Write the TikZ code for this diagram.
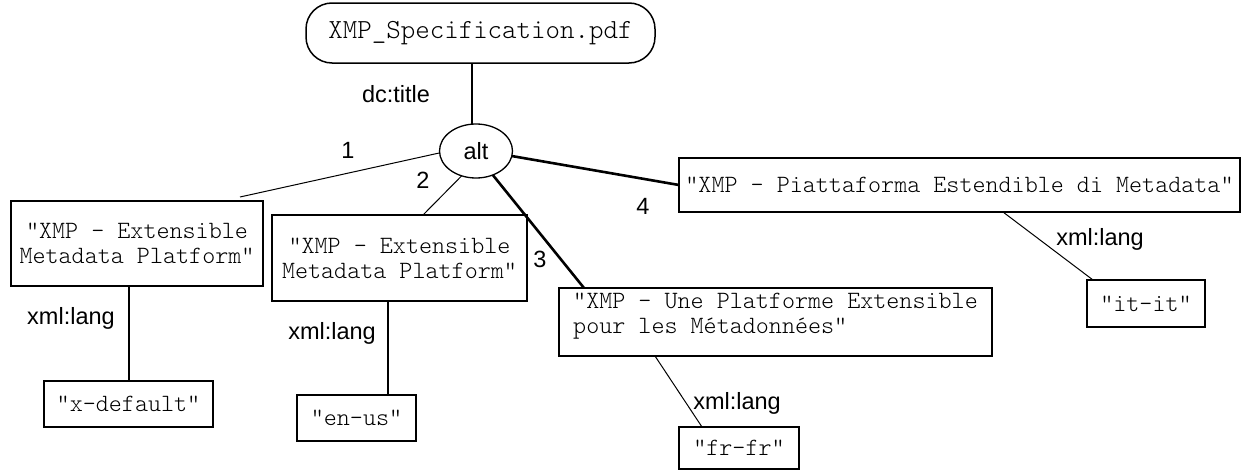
\documentclass[tikz,border=0pt]{standalone}
\usepackage{fontspec}
\newfontfamily\lsans{Liberation Sans}
\usetikzlibrary{shapes.geometric,calc}
\newcommand{\monotext}{\fontseries{l}\ttfamily\fontsize{24.86}{25}\selectfont}
\newcommand{\toptext}{\fontseries{l}\ttfamily\fontsize{27.6}{30}\selectfont}
\newcommand{\labtext}{\lsans\fontsize{23.5}{26}\selectfont}
\newcommand{\liftup}[2]{\raisebox{#1}[\height][\depth]{#2}}
\tikzset{
  every node/.style={inner sep=0pt, outer sep=0pt},
  valbox/.style={draw, rectangle, line width=2.1pt, font=\monotext, align=center},
  lab/.style={font=\labtext},
  thinline/.style={line width=1pt},
  midline/.style={line width=2pt},
  boldline/.style={line width=2.6pt}
}
\begin{document}
\begin{tikzpicture}[x=1pt,y=-1pt]
\useasboundingbox (0,0) rectangle (1242,471);
\fill[white] (0,0) rectangle (1242,471);

% resource node
\node[draw, rectangle, line width=1.5pt, rounded corners=26pt,
      minimum width=349pt, minimum height=60pt, font=\toptext] (top) at (480.5,33) {XMP\_Specification.pdf};

% alt node
\node[ellipse, draw, line width=1.3pt, minimum width=73pt, minimum height=54pt, lab] (alt) at (476,151) {alt};

% value boxes
\node[valbox, minimum width=252pt, minimum height=85pt] (b1) at (137,243.5) {"XMP - Extensible\\Metadata Platform"};
\node[valbox, minimum width=255pt, minimum height=86pt] (b2) at (399.5,258) {"XMP - Extensible\\Metadata Platform"};
\node[valbox, minimum width=433pt, minimum height=68pt] (b3) at (775.5,322)
  {\liftup{6.5pt}{\begin{tabular}{@{}l@{}}"XMP - Une Platforme Extensible\\pour les Métadonnées"\end{tabular}}};
\node[valbox, minimum width=561pt, minimum height=54pt] (b4) at (959.5,185) {"XMP - Piattaforma Estendible di Metadata"};

% language boxes
\node[valbox, minimum width=169pt, minimum height=46pt] (xdef) at (128.5,404) {"x-default"};
\node[valbox, minimum width=119pt, minimum height=46pt] (enus) at (356.5,418) {"en-us"};
\node[valbox, minimum width=120pt, minimum height=42pt] (frfr) at (739,448) {"fr-fr"};
\node[valbox, minimum width=118pt, minimum height=47pt] (itit) at (1146,303.5) {"it-it"};

% labels
\node[lab] (dct) at (396,94) {dc:title};
\node[lab] (n1) at (348,150.5) {1};
\node[lab] (n2) at (423,180) {2};
\node[lab] (n3) at (540,259) {3};
\node[lab] (n4) at (643,206) {4};
\node[lab] (xl1) at (71,318.5) {xml:lang};
\node[lab] (xl2) at (332,333) {xml:lang};
\node[lab] (xl3) at (737,403) {xml:lang};
\node[lab] (xl4) at (1100,239) {xml:lang};

% connectors
\draw[midline] ([xshift=-8.5pt]top.south) -- ([xshift=-8.5pt]top.south |- alt.north);
\draw[thinline] (alt.183) -- ([xshift=103pt,yshift=4pt]b1.north);
\draw[thinline] (alt.240) -- ([xshift=23.5pt]b2.north);
\draw[boldline] (alt.305) -- ([xshift=-191.5pt]b3.north);
\draw[boldline] (alt.352) -- (b4.west);
\draw[midline] (b1.south -| xdef.north) -- (xdef.north);
\draw[midline] ([xshift=-11.5pt]b2.south) -- ([xshift=-11.5pt]b2.south |- enus.north);
\draw[thinline] ([xshift=-120.5pt]b3.south) -- ([xshift=-37pt]frfr.north);
\draw[thinline] ([xshift=43.5pt]b4.south) -- ([xshift=-53pt]itit.north);
\end{tikzpicture}
\end{document}
